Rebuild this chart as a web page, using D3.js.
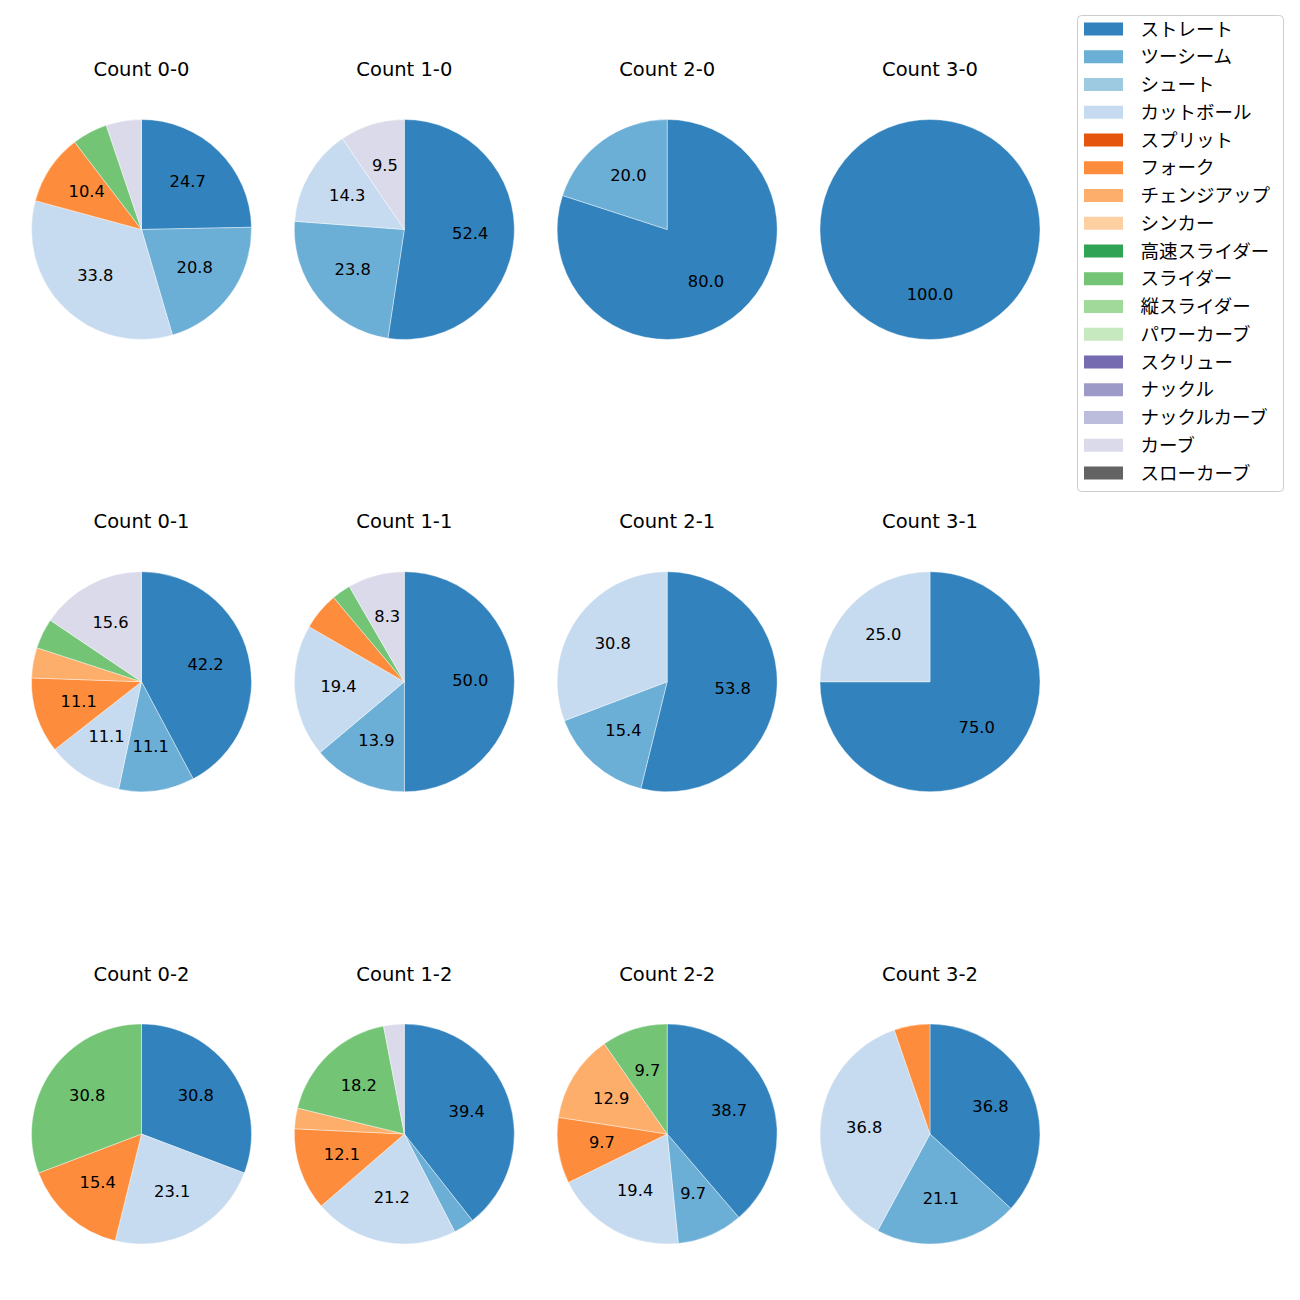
<!DOCTYPE html>
<html><head><meta charset="utf-8">
<script src="https://cdn.jsdelivr.net/npm/d3@7"></script>
<style>body{margin:0;background:#fff;} svg{display:block;}</style>
</head><body>
<script>
const pitchTypes = ["ストレート","ツーシーム","シュート","カットボール","スプリット","フォーク","チェンジアップ","シンカー","高速スライダー","スライダー","縦スライダー","パワーカーブ","スクリュー","ナックル","ナックルカーブ","カーブ","スローカーブ"];
const pitchColors = ["#3182bd","#6baed6","#9ecae1","#c6dbef","#e6550d","#fd8d3c","#fdae6b","#fdd0a2","#31a354","#74c476","#a1d99b","#c7e9c0","#756bb1","#9e9ac8","#bcbddc","#dadaeb","#636363"];
const balls = [0,1,2,3];
const strikes = [0,1,2];
// pitch counts per ball-strike count, ordered like pitchTypes
const count00 = [19,16,0,26,0,8,0,0,0,4,0,0,0,0,0,4,0];
const count10 = [11,5,0,3,0,0,0,0,0,0,0,0,0,0,0,2,0];
const count20 = [4,1,0,0,0,0,0,0,0,0,0,0,0,0,0,0,0];
const count30 = [1,0,0,0,0,0,0,0,0,0,0,0,0,0,0,0,0];
const count01 = [19,5,0,5,0,5,2,0,0,2,0,0,0,0,0,7,0];
const count11 = [18,5,0,7,0,2,0,0,0,1,0,0,0,0,0,3,0];
const count21 = [7,2,0,4,0,0,0,0,0,0,0,0,0,0,0,0,0];
const count31 = [3,0,0,1,0,0,0,0,0,0,0,0,0,0,0,0,0];
const count02 = [4,0,0,3,0,2,0,0,0,4,0,0,0,0,0,0,0];
const count12 = [13,1,0,7,0,4,1,0,0,6,0,0,0,0,0,1,0];
const count22 = [12,3,0,6,0,3,4,0,0,3,0,0,0,0,0,0,0];
const count32 = [7,4,0,7,0,1,0,0,0,0,0,0,0,0,0,0,0];
const countData = [
  [count00,count10,count20,count30],
  [count01,count11,count21,count31],
  [count02,count12,count22,count32]
];
const labelThreshold = 7;

const W = 1300, H = 1300;
const svg = d3.select("body").append("svg").attr("width",W).attr("height",H)
  .style("font-family","'DejaVu Sans','Noto Sans CJK JP',sans-serif");

const colX = d3.scalePoint().domain(balls).range([141.5, 930]);
const rowY = d3.scalePoint().domain(strikes).range([229.5, 1134]);
const R = 110;
const color = d3.scaleOrdinal().domain(pitchTypes).range(pitchColors);
const pie = d3.pie().sort(null).value(d => d.v);
const arc = d3.arc().innerRadius(0).outerRadius(R);
const labelArc = d3.arc().innerRadius(R*0.6).outerRadius(R*0.6);

strikes.forEach((s, si) => {
  balls.forEach((b, bi) => {
    const vals = countData[si][bi];
    const total = d3.sum(vals);
    const data = pitchTypes.map((p,i)=>({p, v: vals[i]})).filter(d=>d.v>0);
    const g = svg.append("g").attr("transform",`translate(${colX(b)},${rowY(s)})`);
    const arcs = pie(data);
    g.selectAll("path").data(arcs).join("path")
      .attr("d", arc).attr("fill", d=>color(d.data.p))
      .attr("stroke","#fff").attr("stroke-width",0.4);
    g.selectAll("text.lab").data(arcs.filter(d=>d.data.v/total*100 >= labelThreshold)).join("text")
      .attr("class","lab")
      .attr("transform", d=>{const c = labelArc.centroid(d); return `translate(${c[0]},${c[1]+4.5})`;})
      .attr("text-anchor","middle")
      .attr("font-size",16.3).attr("fill","#000")
      .text(d=>(d.data.v/total*100).toFixed(1));
    svg.append("text").attr("x",colX(b)).attr("y",rowY(s)-153.5)
      .attr("text-anchor","middle")
      .attr("font-size",19.5).attr("fill","#000")
      .text(`Count ${b}-${s}`);
  });
});

// legend
const lg = svg.append("g").attr("transform","translate(1077,15)")
  .style("font-family","'Noto Sans CJK JP',sans-serif");
lg.append("rect").attr("x",0.5).attr("y",0.5).attr("width",206).attr("height",476)
  .attr("rx",4).attr("fill","#fff").attr("stroke","#cccccc").attr("stroke-width",1);
const ly = d3.scalePoint().domain(pitchTypes).range([14, 14 + 27.75*16]);
pitchTypes.forEach(p => {
  lg.append("rect").attr("x",7).attr("y",ly(p)-6.5).attr("width",39).attr("height",13).attr("fill",color(p));
  lg.append("text").attr("x",63.5).attr("y",ly(p)+6.5)
    .attr("font-size",18.5).attr("fill","#000").text(p);
});
</script>
</body></html>
